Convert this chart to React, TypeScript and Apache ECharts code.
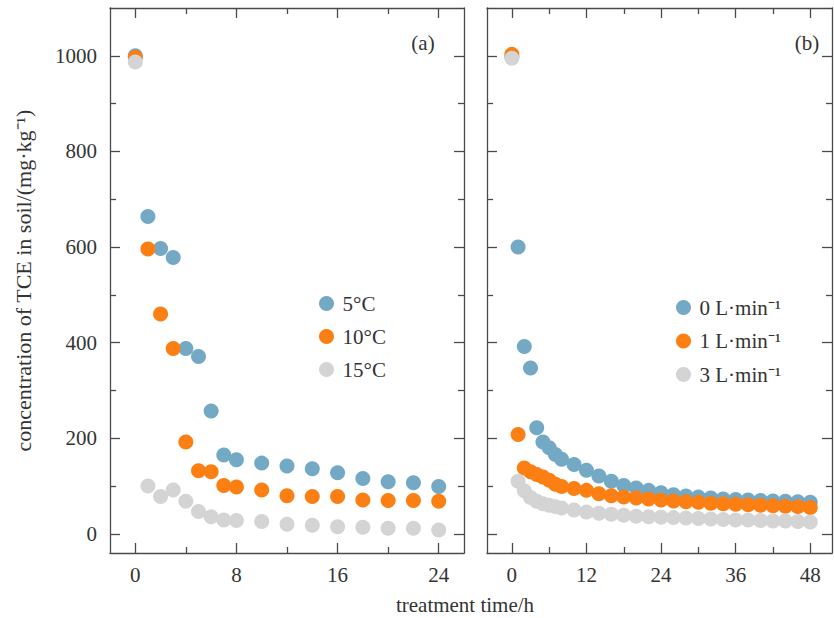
import React, { useEffect, useRef } from "react";
import * as echarts from "echarts";

// ---------- data ----------
const timeA = [0, 1, 2, 3, 4, 5, 6, 7, 8, 10, 12, 14, 16, 18, 20, 22, 24];
const temp5 = [1000, 664, 597, 578, 388, 371, 257, 165, 155, 148, 142, 136, 128, 116, 109, 107, 99];
const temp10 = [997, 596, 460, 388, 192, 132, 130, 101, 98, 92, 80, 78, 78, 71, 70, 70, 68];
const temp15 = [987, 100, 78, 92, 68, 47, 36, 29, 28, 26, 20, 18, 15, 14, 12, 12, 8];

const timeB = [0, 1, 2, 3, 4, 5, 6, 7, 8, 10, 12, 14, 16, 18, 20, 22, 24, 26, 28, 30, 32, 34, 36, 38, 40, 42, 44, 46, 48];
const flow0 = [998, 600, 392, 347, 222, 192, 180, 166, 156, 145, 133, 121, 110, 101, 96, 91, 86, 82, 79, 77, 75, 73, 72, 71, 70, 69, 68, 67, 66];
const flow1 = [1003, 208, 138, 130, 124, 119, 112, 104, 99, 95, 91, 84, 80, 77, 75, 73, 71, 69, 67, 66, 64, 63, 62, 61, 60, 59, 58, 57, 55];
const flow3 = [995, 110, 90, 76, 68, 63, 60, 57, 54, 50, 46, 43, 41, 39, 37, 36, 35, 34, 33, 32, 31, 30, 29, 29, 28, 27, 27, 26, 25];

const namesA = ["5°C", "10°C", "15°C"];
const namesB = ["0 L·min⁻¹", "1 L·min⁻¹", "3 L·min⁻¹"];

const xMajorA = [0, 8, 16, 24];
const xMinorA = [4, 12, 20];
const xMajorB = [0, 12, 24, 36, 48];
const xMinorB = [6, 18, 30, 42];
const yMajor = [0, 200, 400, 600, 800, 1000];
const yMinor = [100, 300, 500, 700, 900];

const colors = ["#73a9c4", "#fb7f12", "#d4d4d4"];

// ---------- style ----------
const FONT = '"Liberation Serif", "Times New Roman", serif';
const AXIS_COLOR = "#4a4a4a";
const TEXT_COLOR = "#333";
const FS = 21;

const zip = (xs: number[], ys: number[]) => xs.map((x, i) => [x, ys[i]]);

function mkAxis(
  gridIndex: number,
  position: string,
  min: number,
  max: number,
  values: number[],
  tickLen: number,
  showLine: boolean,
  showLabel: boolean,
  margin: number,
  extra: any = {}
) {
  return {
    type: "value",
    gridIndex,
    position,
    min,
    max,
    splitLine: { show: false },
    axisLine: { show: showLine, onZero: false, lineStyle: { color: AXIS_COLOR, width: 1.3 } },
    axisTick: {
      show: true,
      inside: true,
      length: tickLen,
      customValues: values,
      lineStyle: { color: AXIS_COLOR, width: 1.3 },
    },
    axisLabel: {
      show: showLabel,
      customValues: values,
      margin,
      fontFamily: FONT,
      fontSize: FS,
      color: TEXT_COLOR,
      formatter: (v: number) => String(v),
    },
    ...extra,
  };
}

export default function App() {
  const ref = useRef<HTMLDivElement>(null);

  useEffect(() => {
    if (!ref.current) return;
    const chart = echarts.init(ref.current, undefined, { renderer: "svg" });

    const xA: [number, number] = [-2, 26];
    const xB: [number, number] = [-4, 51.5];
    const yR: [number, number] = [-40, 1100];
    const MAJ = 10;
    const MIN = 6;

    const xAxis = [
      // grid 0
      mkAxis(0, "bottom", xA[0], xA[1], xMajorA, MAJ, true, true, 11),
      mkAxis(0, "bottom", xA[0], xA[1], xMinorA, MIN, false, false, 11),
      mkAxis(0, "top", xA[0], xA[1], xMajorA, MAJ, true, false, 11),
      mkAxis(0, "top", xA[0], xA[1], xMinorA, MIN, false, false, 11),
      // grid 1
      mkAxis(1, "bottom", xB[0], xB[1], xMajorB, MAJ, true, true, 11),
      mkAxis(1, "bottom", xB[0], xB[1], xMinorB, MIN, false, false, 11),
      mkAxis(1, "top", xB[0], xB[1], xMajorB, MAJ, true, false, 11),
      mkAxis(1, "top", xB[0], xB[1], xMinorB, MIN, false, false, 11),
    ];

    const yAxis = [
      mkAxis(0, "left", yR[0], yR[1], yMajor, MAJ, true, true, 13, {
        name: "concentration of TCE in soil/(mg·kg⁻¹)",
        nameLocation: "middle",
        nameGap: 76,
        nameTextStyle: { fontFamily: FONT, fontSize: 22, color: TEXT_COLOR },
      }),
      mkAxis(0, "left", yR[0], yR[1], yMinor, MIN, false, false, 13),
      mkAxis(0, "right", yR[0], yR[1], yMajor, MAJ, true, false, 13),
      mkAxis(0, "right", yR[0], yR[1], yMinor, MIN, false, false, 13),
      mkAxis(1, "left", yR[0], yR[1], yMajor, MAJ, true, false, 13),
      mkAxis(1, "left", yR[0], yR[1], yMinor, MIN, false, false, 13),
      mkAxis(1, "right", yR[0], yR[1], yMajor, MAJ, true, false, 13),
      mkAxis(1, "right", yR[0], yR[1], yMinor, MIN, false, false, 13),
    ];

    const seriesA = [temp5, temp10, temp15].map((d, i) => ({
      type: "scatter",
      name: namesA[i],
      xAxisIndex: 0,
      yAxisIndex: 0,
      symbol: "circle",
      symbolSize: 15,
      itemStyle: { color: colors[i], opacity: 1 },
      data: zip(timeA, d),
      z: 2 + i,
    }));
    const seriesB = [flow0, flow1, flow3].map((d, i) => ({
      type: "scatter",
      name: namesB[i],
      xAxisIndex: 4,
      yAxisIndex: 4,
      symbol: "circle",
      symbolSize: 15,
      itemStyle: { color: colors[i], opacity: 1 },
      data: zip(timeB, d),
      z: 2 + i,
    }));

    const legendBase = {
      orient: "vertical",
      icon: "circle",
      itemWidth: 22,
      itemHeight: 15,
      itemGap: 12,
      textStyle: { fontFamily: FONT, fontSize: FS, color: TEXT_COLOR },
      selectedMode: false,
    };

    chart.setOption({
      animation: false,
      backgroundColor: "#fff",
      grid: [
        { left: 110, top: 8, width: 354, height: 545 },
        { left: 487, top: 8, width: 345, height: 545 },
      ],
      xAxis,
      yAxis,
      legend: [
        { ...legendBase, data: namesA, left: 314, top: 288 },
        { ...legendBase, data: namesB, left: 671, top: 292, itemGap: 12.5 },
      ],
      graphic: [
        {
          type: "text",
          x: 423,
          y: 43,
          style: {
            text: "(a)",
            fontFamily: FONT,
            fontSize: FS,
            fill: TEXT_COLOR,
            textAlign: "center",
            textVerticalAlign: "middle",
          },
        },
        {
          type: "text",
          x: 807,
          y: 43,
          style: {
            text: "(b)",
            fontFamily: FONT,
            fontSize: FS,
            fill: TEXT_COLOR,
            textAlign: "center",
            textVerticalAlign: "middle",
          },
        },
        {
          type: "text",
          x: 465,
          y: 605,
          style: {
            text: "treatment time/h",
            fontFamily: FONT,
            fontSize: FS,
            fill: TEXT_COLOR,
            textAlign: "center",
            textVerticalAlign: "middle",
          },
        },
      ],
      series: [...seriesA, ...seriesB],
    });

    return () => chart.dispose();
  }, []);

  return <div ref={ref} style={{ width: 834, height: 618, position: "absolute", left: 0, top: 0 }} />;
}
